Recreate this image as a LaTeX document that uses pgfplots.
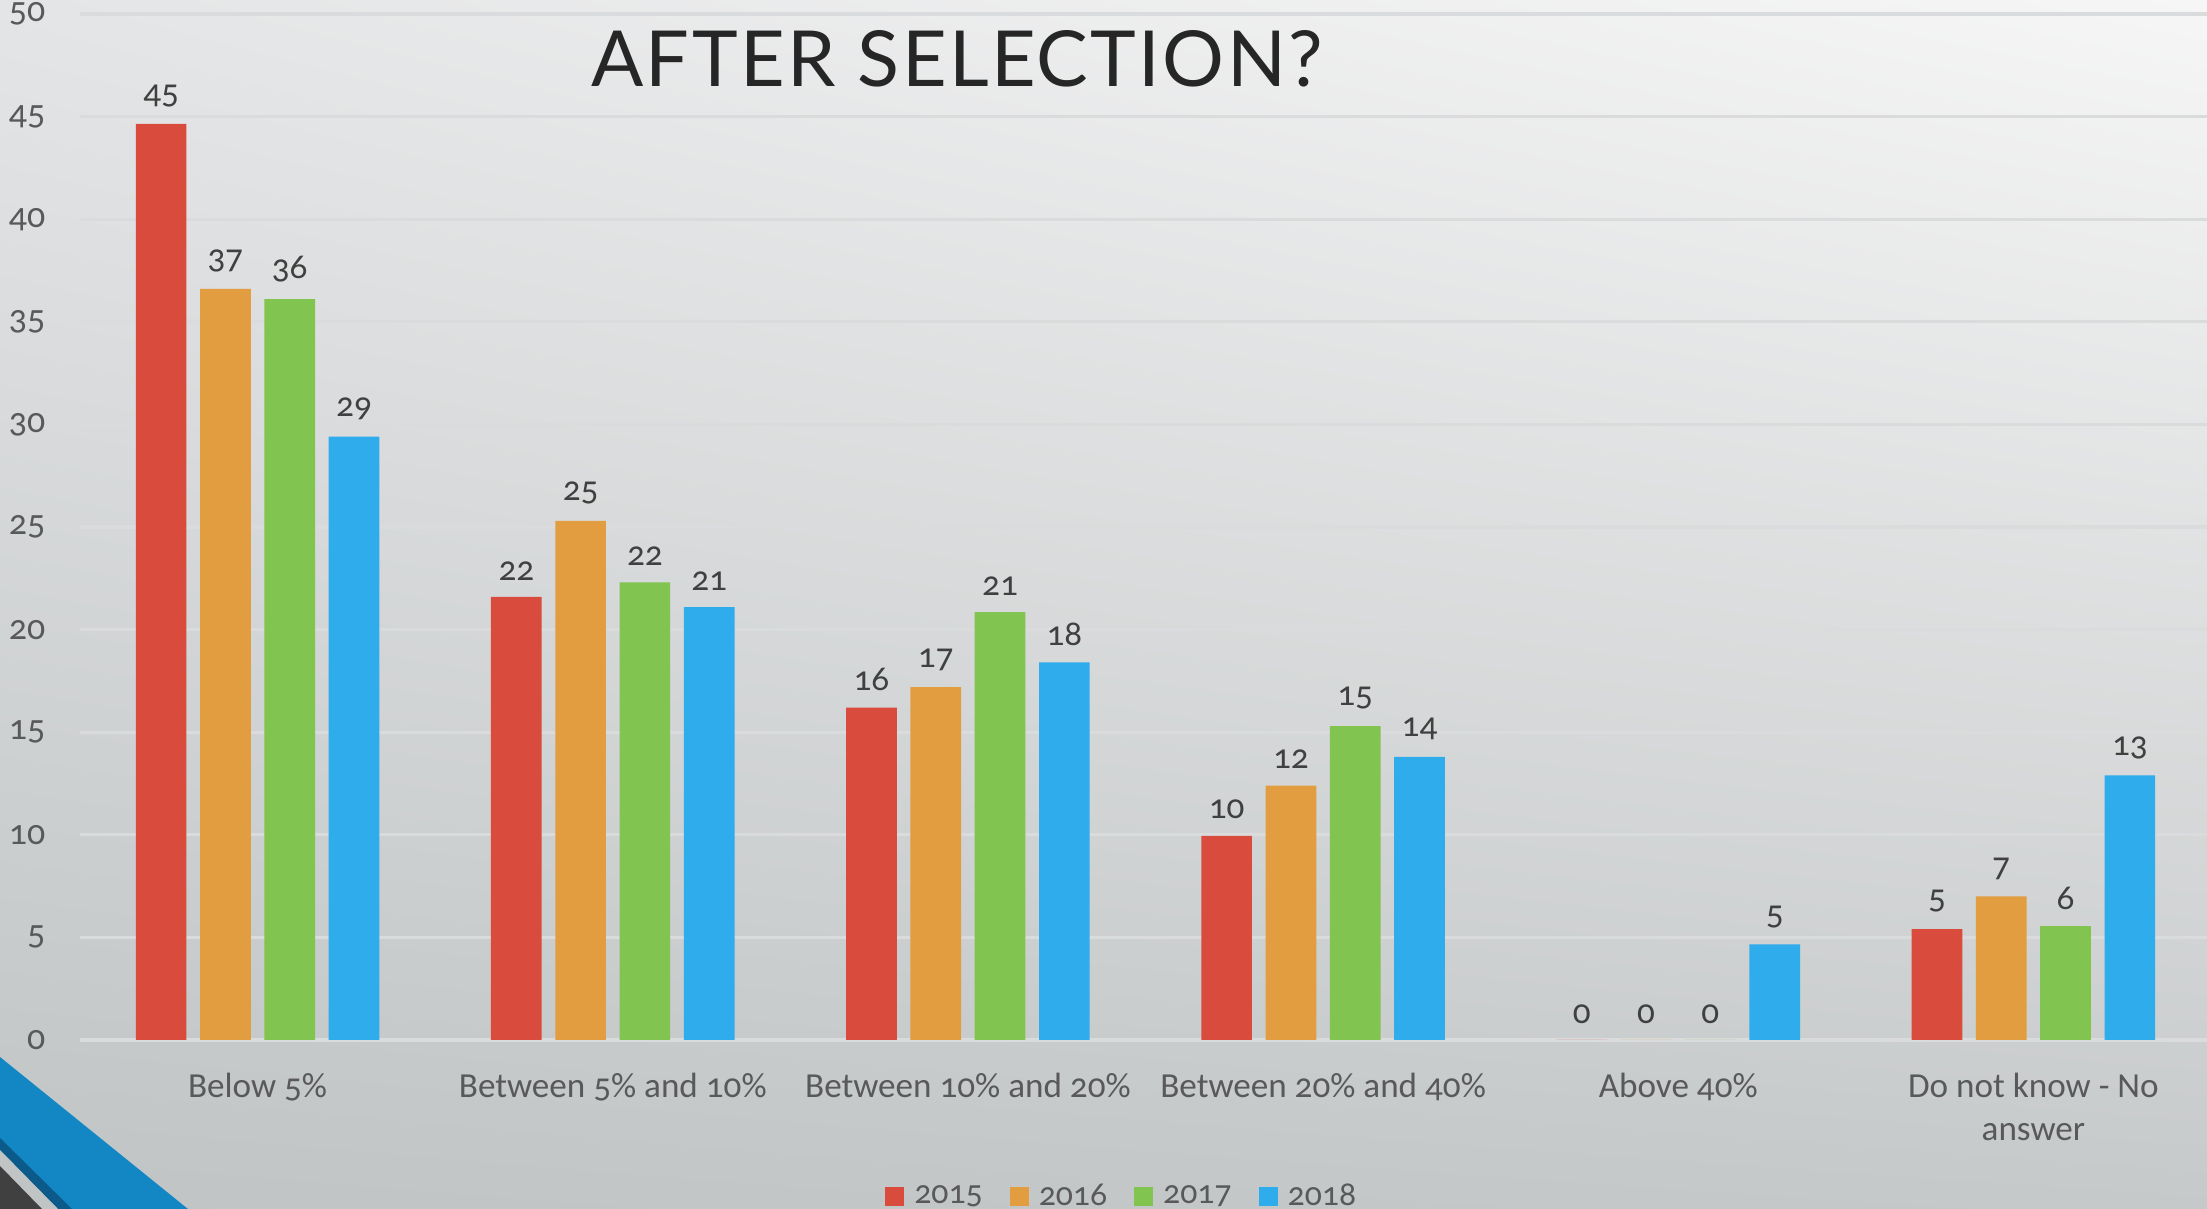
\documentclass[border=0pt]{standalone}
\usepackage{pgfplots}
\pgfplotsset{compat=1.18}
\usetikzlibrary{shadings}
\usepackage{fontspec}
\setmainfont{Carlito}[Numbers=OldStyle]
\newfontfamily\titlefont{Lato}[LetterSpace=3]
\definecolor{c15}{RGB}{217,75,60}
\definecolor{c16}{RGB}{226,157,64}
\definecolor{c17}{RGB}{129,196,80}
\definecolor{c18}{RGB}{47,172,236}
\definecolor{txt}{RGB}{89,89,89}
\definecolor{lab}{RGB}{64,64,64}
\definecolor{gridc}{RGB}{217,219,220}
\definecolor{bgul}{RGB}{228,229,230}
\definecolor{bgur}{RGB}{246,246,246}
\definecolor{bgll}{RGB}{192,196,197}
\definecolor{bglr}{RGB}{198,201,202}
\definecolor{deco}{RGB}{18,135,196}
\definecolor{decodark}{RGB}{11,90,138}
\definecolor{decogray}{RGB}{64,64,64}
\begin{document}
\begin{tikzpicture}
\useasboundingbox (0,0) rectangle (220.7mm,120.9mm);
\clip (0,0) rectangle (220.7mm,120.9mm);
\shade[upper left=bgul, upper right=bgur, lower left=bgll, lower right=bglr] (0,0) rectangle (220.7mm,120.9mm);
% corner decoration
\begin{scope}[x=0.1mm,y=-0.1mm,shift={(0,120.9mm)}]
\fill[deco] (0,1057) -- (188,1209) -- (0,1209) -- cycle;
\fill[decodark] (0,1138) -- (72,1209) -- (58,1209) -- (0,1150) -- cycle;
\fill[bgll] (0,1150) -- (58,1209) -- (0,1209) -- cycle;
\fill[decogray] (0,1166) -- (42,1209) -- (0,1209) -- cycle;
\end{scope}
\node[anchor=base, text=black!85, inner sep=0] at (95.7mm,112.2mm) {\titlefont\fontsize{22}{26}\selectfont AFTER SELECTION?};
\begin{axis}[
  at={(8.0mm,16.9mm)}, anchor=south west,
  scale only axis, width=213.1mm, height=102.6mm,
  xmin=-0.5, xmax=5.5, ymin=0, ymax=50,
  ybar, bar width=0.1426,
  xtick={0,...,5},
  xticklabels={Below 5\%, Between 5\% and 10\%, Between 10\% and 20\%, Between 20\% and 40\%, Above 40\%, {Do not know - No\\answer}},
  ytick={0,5,...,50},
  ymajorgrids, grid style={gridc, line width=0.9pt},
  axis line style={draw=none},
  major tick length=0pt,
  /pgf/number format/assume math mode=true,
  yticklabel style={font=\fontsize{10.2}{13}\selectfont, text=txt, inner sep=0pt, xshift=-3.4mm},
  xticklabel style={font=\fontsize{10}{12.4}\selectfont, text=txt, inner sep=0pt, yshift=-3.2mm, align=center, anchor=north},
  nodes near coords={\pgfmathprintnumber[fixed,precision=0,assume math mode=true]{\pgfplotspointmeta}},
  every node near coord/.append style={font=\fontsize{10}{13}\selectfont, text=lab, inner sep=0pt, yshift=1.6mm, anchor=south},
  clip=false,
  legend columns=-1,
  legend style={at={(0.49,-0.153)}, anchor=center, draw=none, fill=none, font=\fontsize{9.6}{13}\selectfont, text=txt,
    /tikz/every even column/.append style={column sep=2.0mm},
    /tikz/every odd column/.append style={column sep=0.3mm}},
  legend image code/.code={\fill[#1] (0mm,-0.95mm) rectangle (1.9mm,0.95mm);},
]
\addplot[fill=c15, draw=none, bar shift=-0.2715] coordinates {(0,44.65) (1,21.6) (2,16.2) (3,9.95) (4,0) (5,5.4)};
\addplot[fill=c16, draw=none, bar shift=-0.0905] coordinates {(0,36.6) (1,25.3) (2,17.2) (3,12.4) (4,0) (5,7.0)};
\addplot[fill=c17, draw=none, bar shift=0.0905] coordinates {(0,36.1) (1,22.3) (2,20.85) (3,15.3) (4,0) (5,5.55)};
\addplot[fill=c18, draw=none, bar shift=0.2715] coordinates {(0,29.4) (1,21.1) (2,18.4) (3,13.8) (4,4.66) (5,12.9)};
\legend{2015,2016,2017,2018}
\end{axis}
\end{tikzpicture}
\end{document}
